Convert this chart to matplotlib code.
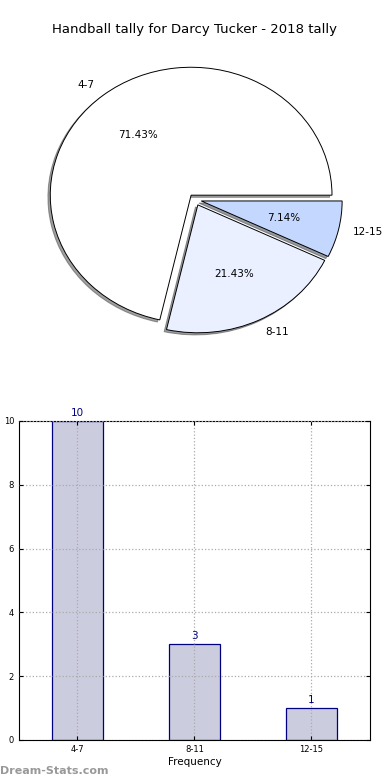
import matplotlib
matplotlib.use('Agg')
import matplotlib.pyplot as plt

# Data
categories = ['4-7', '8-11', '12-15']
tally = [10, 3, 1]
slice_colors = ['#ffffff', '#eaf0ff', '#c4d8ff']
explode = [0.045, 0.045, 0.045]

fig = plt.figure(figsize=(3.9, 7.8), dpi=100)

# Pie chart (elliptical, like the old matplotlib output)
ax1 = fig.add_axes([0.0487, 0.539, 0.903, 0.41])
wedges, texts, autotexts = ax1.pie(tally, labels=categories, colors=slice_colors,
                                   explode=explode, autopct='%1.2f%%',
                                   shadow={'ox': -0.012, 'oy': -0.012, 'shade': 0.75},
                                   startangle=0, counterclock=True,
                                   wedgeprops={'edgecolor': 'black', 'linewidth': 0.7},
                                   textprops={'fontsize': 7.5})
ax1.set_aspect('auto')
ax1.set_xlim(-1.25, 1.25)
ax1.set_ylim(-1.25, 1.25)
fig.text(0.5, 1 - 30 / 780, 'Handball tally for Darcy Tucker - 2018 tally',
         ha='center', va='center', fontsize=9.5)

# Bar chart
ax2 = fig.add_axes([0.0487, 0.0513, 0.9, 0.409])
x = range(len(categories))
ax2.bar(x, tally, width=0.44, color='#ccccdf', edgecolor='navy', linewidth=0.9, zorder=2)
for i, v in zip(x, tally):
    ax2.text(i, v + 0.1, str(v), ha='center', va='bottom', color='navy', fontsize=7.5)
ax2.set_xlim(-0.5, 2.5)
ax2.set_ylim(0, 10)
ax2.set_xticks(list(x))
ax2.set_xticklabels(categories)
ax2.set_yticks(range(0, 11, 2))
ax2.tick_params(labelsize=6, direction='in', length=3, top=True, right=True)
ax2.grid(True, linestyle=':', color='#aaaaaa', linewidth=0.9, zorder=0)
ax2.set_axisbelow(False)
ax2.set_xlabel('Frequency', fontsize=7.5, labelpad=2)
ax2.set_ylabel('Distribution Tally', fontsize=6.5)
ax2.yaxis.set_label_coords(-0.055, 0.5)

fig.text(0.0, 1 - 771 / 780, 'Dream-Stats.com', ha='left', va='center',
         fontsize=8, color='#999999', fontweight='bold')

plt.savefig('out.png', dpi=100)
